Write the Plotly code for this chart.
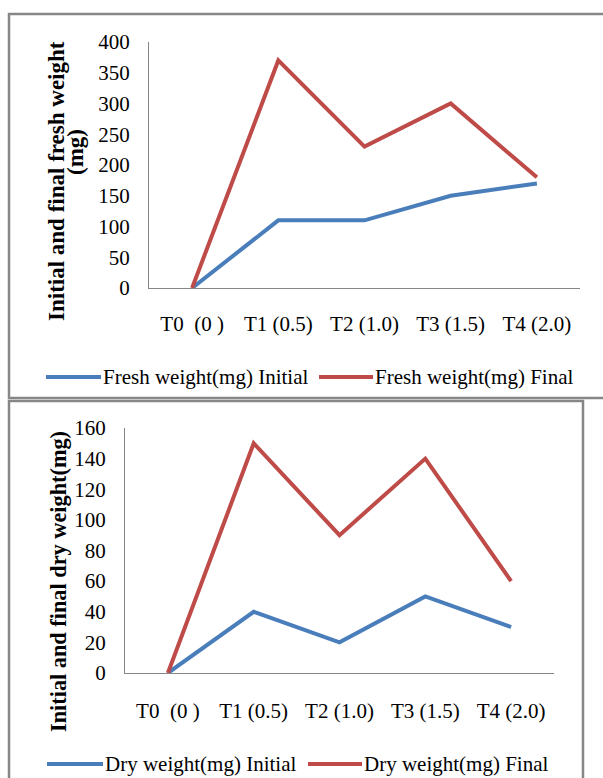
import plotly.graph_objects as go

# Canvas size (pixels)
W, H = 603, 778

# ---- data ----
categories = ["T0\u00a0\u00a0(0\u00a0)", "T1 (0.5)", "T2 (1.0)", "T3 (1.5)", "T4 (2.0)"]
fresh_initial = [0, 110, 110, 150, 170]
fresh_final = [0, 370, 230, 300, 180]
dry_initial = [0, 40, 20, 50, 30]
dry_final = [0, 150, 90, 140, 60]

fresh_names = ["Fresh weight(mg) Initial", "Fresh weight(mg) Final"]
dry_names = ["Dry weight(mg) Initial", "Dry weight(mg) Final"]
fresh_ticks = list(range(0, 401, 50))
dry_ticks = list(range(0, 161, 20))

BLUE = "#4a7ebb"
RED = "#be4b48"
AXIS = "#868686"
BORDER = "#878787"
FONT = "Liberation Serif, Times New Roman, serif"


def px(x):
    return x / W


def py(y):
    return 1 - y / H


fig = go.Figure()

panels = [
    dict(x="x", y="y", names=fresh_names, series=[fresh_initial, fresh_final]),
    dict(x="x2", y="y2", names=dry_names, series=[dry_initial, dry_final]),
]
for p in panels:
    for name, vals, col in zip(p["names"], p["series"], [BLUE, RED]):
        fig.add_trace(go.Scatter(
            x=categories, y=vals, name=name, mode="lines",
            line=dict(color=col, width=4),
            xaxis=p["x"], yaxis=p["y"], showlegend=False,
        ))

tick_font = dict(family=FONT, size=21, color="#000000")
axis_common = dict(showgrid=False, zeroline=False, showline=True, automargin=False,
                   linecolor=AXIS, linewidth=1, ticks="", tickfont=tick_font)

fig.update_layout(
    width=W, height=H,
    margin=dict(l=0, r=0, t=0, b=0, pad=0),
    paper_bgcolor="white", plot_bgcolor="white",
    xaxis=dict(domain=[px(149), px(580)], anchor="y", type="category",
               range=[-0.5, 4.5], ticklabelstandoff=17, **axis_common),
    yaxis=dict(domain=[py(288), py(42)], anchor="x", range=[0, 400],
               tickvals=fresh_ticks, ticklabelstandoff=14, **axis_common),
    xaxis2=dict(domain=[px(125), px(554)], anchor="y2", type="category",
                range=[-0.5, 4.5], ticklabelstandoff=19, **axis_common),
    yaxis2=dict(domain=[py(673), py(428)], anchor="x2", range=[0, 160],
                tickvals=dry_ticks, ticklabelstandoff=14, **axis_common),
    showlegend=False,
)

# panel frames
fig.add_shape(type="rect", xref="paper", yref="paper",
              x0=px(9), x1=px(610), y0=py(398), y1=py(14),
              line=dict(color=BORDER, width=2.5))
fig.add_shape(type="rect", xref="paper", yref="paper",
              x0=px(9), x1=px(583), y0=py(790), y1=py(401),
              line=dict(color=BORDER, width=2.5))

# axis titles
fig.add_annotation(text="<b>Initial and final fresh weight</b>", xref="paper", yref="paper",
                   x=px(56), y=py(181), textangle=-90, showarrow=False,
                   xanchor="center", yanchor="middle",
                   font=dict(family=FONT, size=23, color="#000000"))
fig.add_annotation(text="<b>(mg)</b>", xref="paper", yref="paper",
                   x=px(76), y=py(152), textangle=-90, showarrow=False,
                   xanchor="center", yanchor="middle",
                   font=dict(family=FONT, size=23, color="#000000"))
fig.add_annotation(text="<b>Initial and final dry weight(mg)</b>", xref="paper", yref="paper",
                   x=px(58), y=py(582), textangle=-90, showarrow=False,
                   xanchor="center", yanchor="middle",
                   font=dict(family=FONT, size=22.3, color="#000000"))

# legends: line sample followed by series name
legend_font = dict(family=FONT, size=21, color="#000000")
legend_rows = [
    (fresh_names, 377, [(46, 101), (319, 373)]),
    (dry_names, 764, [(47, 103), (308, 362)]),
]
for names, ly, spans in legend_rows:
    for name, col, (x0, x1) in zip(names, [BLUE, RED], spans):
        fig.add_shape(type="line", xref="paper", yref="paper",
                      x0=px(x0), x1=px(x1), y0=py(ly), y1=py(ly),
                      line=dict(color=col, width=4))
        fig.add_annotation(text=name, xref="paper", yref="paper",
                           x=px(x1 + 1), y=py(ly), showarrow=False,
                           xanchor="left", yanchor="middle", font=legend_font,
                           borderpad=0)

fig.write_html("out.html")
